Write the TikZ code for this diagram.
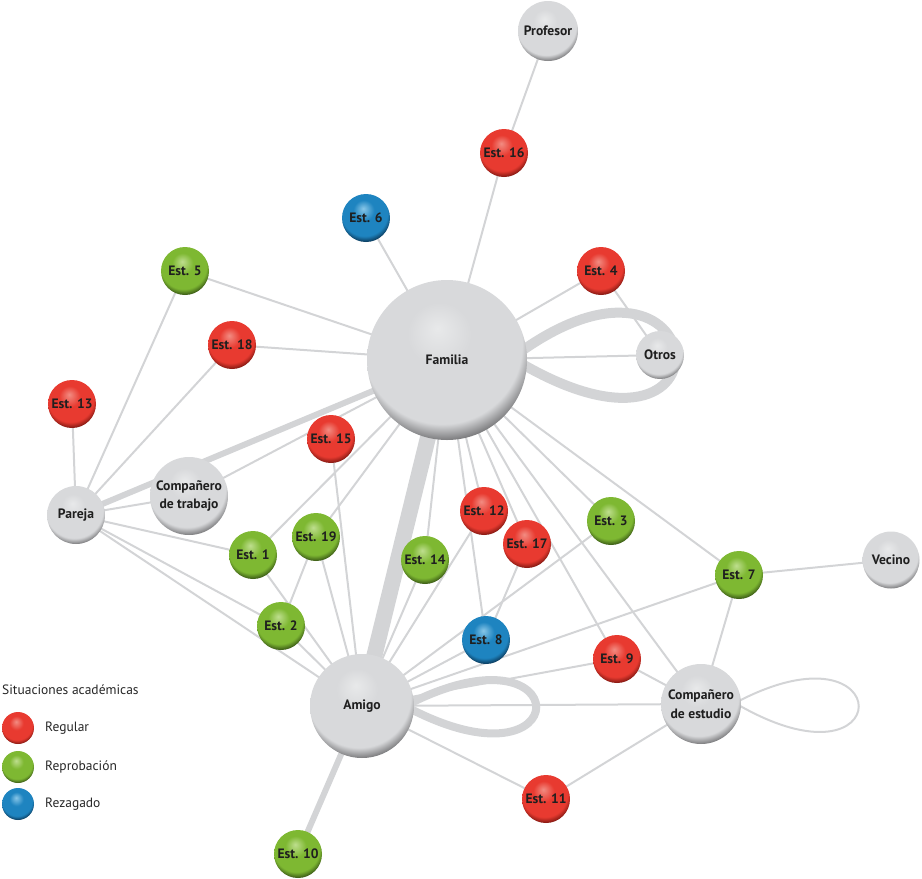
\documentclass[tikz,border=0pt]{standalone}
\usepackage{fontspec}
\setmainfont{PT Sans}
\pgfdeclarelayer{bg}
\pgfsetlayers{bg,main}
\definecolor{lnkgray}{RGB}{211,212,214}
\definecolor{gBase}{RGB}{216,217,219}
\definecolor{gHi}{RGB}{232,233,234}
\definecolor{gDark}{RGB}{105,105,107}
\definecolor{rBase}{RGB}{232,58,48}
\definecolor{rHi}{RGB}{242,140,130}
\definecolor{rDark}{RGB}{110,18,12}
\definecolor{vBase}{RGB}{126,184,50}
\definecolor{vHi}{RGB}{190,222,142}
\definecolor{vDark}{RGB}{44,70,16}
\definecolor{bBase}{RGB}{30,132,192}
\definecolor{bHi}{RGB}{135,198,232}
\definecolor{bDark}{RGB}{8,44,72}
\pgfdeclareradialshading{grayball}{\pgfpoint{-3bp}{10bp}}{color(0bp)=(gHi); color(10bp)=(gBase); color(25bp)=(gBase); color(30bp)=(gDark); color(36bp)=(black!70); color(50bp)=(black)}
\pgfdeclareradialshading{redball}{\pgfpoint{-3bp}{10bp}}{color(0bp)=(rHi); color(11bp)=(rBase); color(24bp)=(rBase); color(30bp)=(rDark); color(36bp)=(black); color(50bp)=(black)}
\pgfdeclareradialshading{greenball}{\pgfpoint{-3bp}{10bp}}{color(0bp)=(vHi); color(11bp)=(vBase); color(24bp)=(vBase); color(30bp)=(vDark); color(36bp)=(black); color(50bp)=(black)}
\pgfdeclareradialshading{blueball}{\pgfpoint{-3bp}{10bp}}{color(0bp)=(bHi); color(11bp)=(bBase); color(24bp)=(bBase); color(30bp)=(bDark); color(36bp)=(black); color(50bp)=(black)}
\tikzset{
  ballnode/.style={circle, inner sep=0pt, minimum size=#1, align=center,
    font=\bfseries\fontsize{13.6}{18.5}\selectfont, text=black!88},
  grayn/.style={ballnode=#1, shading=grayball},
  regn/.style={ballnode=#1, shading=redball},
  repn/.style={ballnode=#1, shading=greenball},
  rezn/.style={ballnode=#1, shading=blueball},
  lnk/.style={draw=lnkgray, line width=2pt},
  legtxt/.style={anchor=west, inner sep=0pt, font=\fontsize{13.5}{15}\selectfont, text=black!85}
}
\begin{document}
\begin{tikzpicture}[x=1pt,y=-1pt]
\useasboundingbox (0,0) rectangle (922,879);
% nodes
\node[grayn=60pt] (prof) at (548,31) {Profesor};
\node[regn=48pt] (e16) at (504,153) {Est. 16};
\node[rezn=48pt] (e6) at (366,218) {Est. 6};
\node[regn=48pt] (e4) at (601,271) {Est. 4};
\node[repn=48pt] (e5) at (185,271) {Est. 5};
\node[grayn=160pt] (fam) at (447,360) {Familia};
\node[grayn=48pt] (otr) at (660,355) {Otros};
\node[regn=48pt] (e18) at (232,345) {Est. 18};
\node[regn=48pt] (e13) at (72,404) {Est. 13};
\node[regn=48pt] (e15) at (331,439) {Est. 15};
\node[grayn=78pt] (ct) at (189,496) {Compañero\\de trabajo};
\node[grayn=58pt] (par) at (76,515) {Pareja};
\node[repn=48pt] (e1) at (253,555) {Est. 1};
\node[repn=48pt] (e19) at (316,537) {Est. 19};
\node[repn=48pt] (e2) at (281,626) {Est. 2};
\node[repn=48pt] (e14) at (425,560) {Est. 14};
\node[regn=48pt] (e12) at (484,511) {Est. 12};
\node[regn=48pt] (e17) at (527,544) {Est. 17};
\node[repn=48pt] (e3) at (611,521) {Est. 3};
\node[repn=48pt] (e7) at (739,575) {Est. 7};
\node[grayn=57pt] (vec) at (891,560) {Vecino};
\node[rezn=48pt] (e8) at (486,640) {Est. 8};
\node[regn=48pt] (e9) at (617,659) {Est. 9};
\node[grayn=104pt] (ami) at (362,706) {Amigo};
\node[grayn=80pt] (ce) at (701,704) {Compañero\\de estudio};
\node[regn=48pt] (e11) at (546,799) {Est. 11};
\node[repn=48pt] (e10) at (298,854) {Est. 10};
% loop vertices
\coordinate (vfam) at (512,358);
\coordinate (vami) at (405,706);
\coordinate (vce) at (735,703);
% legend
\node[legtxt] (lt) at (2,690) {Situaciones académicas};
\node[regn=32pt] (l1) at (18,728) {};
\node[repn=32pt] (l2) at (18,767) {};
\node[rezn=32pt] (l3) at (18,804) {};
\node[legtxt] (l1t) at (45,728) {Regular};
\node[legtxt] (l2t) at (45,767) {Reprobación};
\node[legtxt] (l3t) at (45,804) {Rezagado};
% edges
\begin{pgfonlayer}{bg}
\draw[lnk, line width=16pt] (fam.center) -- (ami.center);
\draw[lnk, line width=6pt] (par.center) -- (fam.center);
\draw[lnk, line width=6pt] (ami.center) -- (e10.center);
\draw[lnk, line width=10pt] (vfam) .. controls (715,205) and (745,500) .. (vfam);
\draw[lnk, line width=8pt] (vami) .. controls (580,615) and (580,800) .. (vami);
\draw[lnk] (vce) .. controls (900,615) and (900,800) .. (vce);
\foreach \a/\b in {prof/e16, e16/fam, e6/fam, e4/fam, e4/otr, fam/otr, e5/fam, e18/fam,
  e5/par, e18/par, e13/par, par/ct, par/e1, par/e2, par/ami, ct/fam, e15/ami,
  e1/fam, e1/ami, e19/fam, e19/e2, e19/ami, e2/ami, e14/fam, e14/ami, e12/fam, e12/ami,
  fam/e8, e17/fam, e17/e8, e8/ami, e3/fam, e3/ami, fam/e9, fam/ce, fam/e7, e7/vec,
  e7/ce, e7/ami, e9/ami, e9/ce, ami/ce, ami/e11, e11/ce}
  \draw[lnk] (\a.center) -- (\b.center);
\end{pgfonlayer}
\end{tikzpicture}
\end{document}
